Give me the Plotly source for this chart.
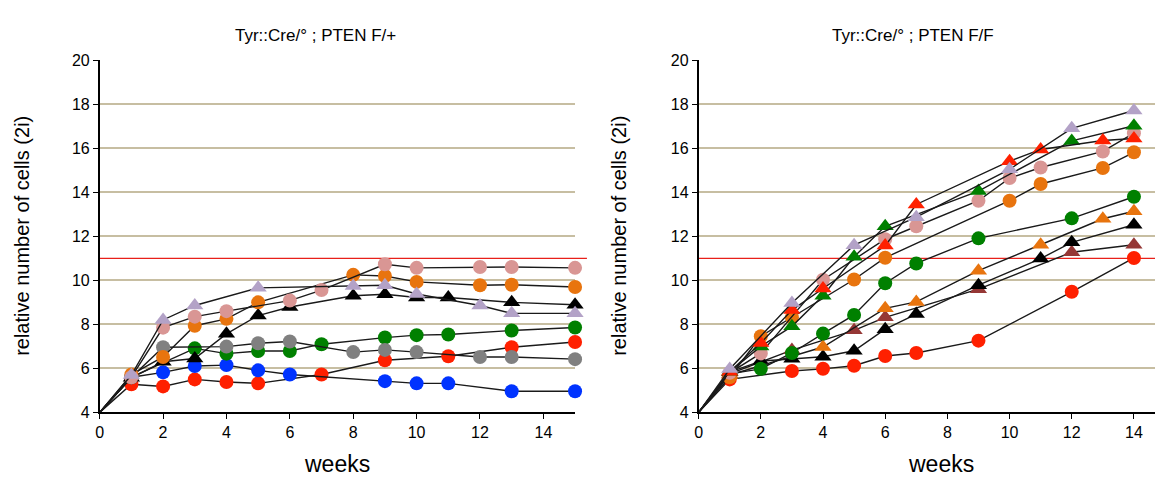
import plotly.graph_objects as go

W, H = 1163, 478

# ---------------- data: left panel (PTEN F/+) ----------------
L_lav_x = [0, 1, 2, 3, 5, 8, 9, 10, 12, 13, 15]
L_lav_y = [4, 5.7, 8.2, 8.86, 9.66, 9.74, 9.78, 9.38, 8.86, 8.5, 8.5]
L_pink_x = [0, 1, 2, 3, 4, 6, 7, 9, 10, 12, 13, 15]
L_pink_y = [4, 5.6, 7.85, 8.35, 8.6, 9.08, 9.56, 10.73, 10.57, 10.61, 10.61, 10.57]
L_orange_x = [0, 1, 2, 3, 4, 5, 8, 9, 10, 12, 13, 15]
L_orange_y = [4, 5.72, 6.52, 7.94, 8.25, 9.0, 10.25, 10.2, 9.93, 9.78, 9.8, 9.7]
L_black_x = [0, 1, 2, 3, 4, 5, 6, 8, 9, 10, 11, 13, 15]
L_black_y = [4, 5.57, 6.3, 6.45, 7.57, 8.4, 8.79, 9.3, 9.37, 9.22, 9.22, 9.0, 8.89]
L_gray_x = [0, 1, 2, 4, 5, 6, 8, 9, 10, 12, 13, 15]
L_gray_y = [4, 5.6, 6.96, 6.99, 7.14, 7.22, 6.74, 6.84, 6.74, 6.52, 6.52, 6.42]
L_green_x = [0, 1, 3, 4, 5, 6, 7, 9, 10, 11, 13, 15]
L_green_y = [4, 5.6, 6.91, 6.67, 6.79, 6.79, 7.1, 7.4, 7.51, 7.54, 7.72, 7.86]
L_blue_x = [0, 1, 2, 3, 4, 5, 6, 9, 10, 11, 13, 15]
L_blue_y = [4, 5.6, 5.82, 6.11, 6.15, 5.91, 5.72, 5.42, 5.32, 5.32, 4.96, 4.96]
L_red_x = [0, 1, 2, 3, 4, 5, 7, 9, 11, 13, 15]
L_red_y = [4, 5.28, 5.18, 5.5, 5.38, 5.32, 5.72, 6.37, 6.55, 6.96, 7.2]

# ---------------- data: right panel (PTEN F/F) ----------------
R_lav_x = [0, 1, 3, 5, 7, 10, 12, 14]
R_lav_y = [4, 5.97, 8.97, 11.6, 12.87, 15.05, 16.91, 17.72]
R_redtri_x = [0, 1, 2, 3, 4, 6, 7, 10, 11, 13, 14]
R_redtri_y = [4, 5.85, 7.15, 8.65, 9.63, 11.58, 13.45, 15.42, 15.95, 16.36, 16.45]
R_greentri_x = [0, 1, 2, 3, 4, 5, 6, 9, 12, 14]
R_greentri_y = [4, 5.85, 7.0, 7.91, 9.3, 11.07, 12.46, 14.06, 16.34, 17.03]
R_pink_x = [0, 1, 2, 4, 6, 7, 9, 10, 11, 13, 14]
R_pink_y = [4, 5.8, 6.68, 10.03, 11.87, 12.46, 13.62, 14.65, 15.13, 15.86, 16.69]
R_orange_x = [0, 1, 2, 3, 5, 6, 10, 11, 13, 14]
R_orange_y = [4, 5.6, 7.46, 8.32, 10.04, 11.03, 13.62, 14.38, 15.11, 15.82]
R_green_x = [0, 1, 2, 3, 4, 5, 6, 7, 9, 12, 14]
R_green_y = [4, 5.75, 5.98, 6.7, 7.58, 8.43, 9.87, 10.77, 11.91, 12.82, 13.8]
R_orangetri_x = [0, 1, 4, 6, 7, 9, 11, 13, 14]
R_orangetri_y = [4, 5.7, 6.97, 8.73, 9.02, 10.44, 11.62, 12.8, 13.14]
R_black_x = [0, 1, 2, 3, 4, 5, 6, 7, 9, 11, 12, 14]
R_black_y = [4, 5.83, 6.33, 6.44, 6.53, 6.8, 7.78, 8.47, 9.78, 10.99, 11.73, 12.53]
R_brown_x = [0, 1, 3, 5, 6, 9, 12, 14]
R_brown_y = [4, 5.75, 6.83, 7.73, 8.32, 9.6, 11.28, 11.62]
R_red_x = [0, 1, 3, 4, 5, 6, 7, 9, 12, 14]
R_red_y = [4, 5.5, 5.88, 5.98, 6.12, 6.56, 6.7, 7.26, 9.48, 11.02]

threshold = 11
y_ticks = [4, 6, 8, 10, 12, 14, 16, 18, 20]
x_ticks = [0, 2, 4, 6, 8, 10, 12, 14]
title_left = "Tyr::Cre/° ; PTEN F/+"
title_right = "Tyr::Cre/° ; PTEN F/F"
y_title = "relative number of cells (2i)"
x_title = "weeks"

LAV = "#B3A2C7"; PINK = "#D99694"; ORANGE = "#E8740E"; BLACK = "#000000"
GRAY = "#808080"; GREEN = "#008000"; BLUE = "#0033FF"; RED = "#FF2000"; BROWN = "#953735"

left_series = [
    (L_red_x, L_red_y, RED, "circle"),
    (L_blue_x, L_blue_y, BLUE, "circle"),
    (L_green_x, L_green_y, GREEN, "circle"),
    (L_gray_x, L_gray_y, GRAY, "circle"),
    (L_black_x, L_black_y, BLACK, "triangle-up"),
    (L_orange_x, L_orange_y, ORANGE, "circle"),
    (L_pink_x, L_pink_y, PINK, "circle"),
    (L_lav_x, L_lav_y, LAV, "triangle-up"),
]
right_series = [
    (R_red_x, R_red_y, RED, "circle"),
    (R_brown_x, R_brown_y, BROWN, "triangle-up"),
    (R_black_x, R_black_y, BLACK, "triangle-up"),
    (R_orangetri_x, R_orangetri_y, ORANGE, "triangle-up"),
    (R_green_x, R_green_y, GREEN, "circle"),
    (R_orange_x, R_orange_y, ORANGE, "circle"),
    (R_pink_x, R_pink_y, PINK, "circle"),
    (R_greentri_x, R_greentri_y, GREEN, "triangle-up"),
    (R_redtri_x, R_redtri_y, RED, "triangle-up"),
    (R_lav_x, R_lav_y, LAV, "triangle-up"),
]

fig = go.Figure()

def add(series, xa, ya):
    for xs, ys, col, sym in series:
        sizes = [0 if x == 0 else (14 if sym == "circle" else 15) for x in xs]
        fig.add_trace(go.Scatter(
            x=xs, y=ys, xaxis=xa, yaxis=ya, mode="lines+markers",
            line=dict(color="#1a1a1a", width=1.4),
            marker=dict(color=col, symbol=sym, size=sizes, opacity=1, line=dict(width=0)),
            opacity=1,
            showlegend=False, cliponaxis=False, hoverinfo="x+y"))

add(left_series, "x", "y")
add(right_series, "x2", "y2")

def px(xp):
    return xp / W

def py(yp):
    return (H - yp) / H

FONT = "Arial, 'Liberation Sans', sans-serif"
yd = [py(411), py(46)]

axis_common = dict(showline=True, linecolor="black", linewidth=1.6, ticks="outside",
                   ticklen=5, tickwidth=1.3, tickcolor="black", zeroline=False,
                   tickfont=dict(family=FONT, size=16, color="black"))

fig.update_layout(
    width=W, height=H, margin=dict(l=0, r=0, t=0, b=0),
    paper_bgcolor="white", plot_bgcolor="white",
    xaxis=dict(domain=[px(88), px(565)], range=[0, 15], tickvals=x_ticks, showgrid=False,
               anchor="y", **axis_common),
    yaxis=dict(domain=yd, range=[4, 20], tickvals=y_ticks, showgrid=True,
               gridcolor="#C7BEA2", gridwidth=2, anchor="x", **axis_common),
    xaxis2=dict(domain=[px(689), px(1157)], range=[0, 15], tickvals=x_ticks, showgrid=False,
                anchor="y2", **axis_common),
    yaxis2=dict(domain=yd, range=[4, 20], tickvals=y_ticks, showgrid=True,
                gridcolor="#C7BEA2", gridwidth=2, anchor="x2", **axis_common),
    shapes=[
        dict(type="line", xref="x domain", yref="y", x0=0, x1=1.025, y0=threshold, y1=threshold,
             line=dict(color="#E8201A", width=1.3), layer="below"),
        dict(type="line", xref="x2 domain", yref="y2", x0=0, x1=1.012, y0=threshold, y1=threshold,
             line=dict(color="#E8201A", width=1.3), layer="below"),
    ],
    annotations=[
        dict(text=title_left, x=px(305), y=py(20), xref="paper", yref="paper", showarrow=False,
             font=dict(family=FONT, size=17, color="black"), xanchor="center", yanchor="middle"),
        dict(text=title_right, x=px(904), y=py(20), xref="paper", yref="paper", showarrow=False,
             font=dict(family=FONT, size=17, color="black"), xanchor="center", yanchor="middle"),
        dict(text=y_title, x=px(10), y=py(228), xref="paper", yref="paper", showarrow=False,
             textangle=-90, font=dict(family=FONT, size=20, color="black"),
             xanchor="center", yanchor="middle"),
        dict(text=y_title, x=px(609), y=py(228), xref="paper", yref="paper", showarrow=False,
             textangle=-90, font=dict(family=FONT, size=20, color="black"),
             xanchor="center", yanchor="middle"),
        dict(text=x_title, x=px(326), y=py(465), xref="paper", yref="paper", showarrow=False,
             font=dict(family=FONT, size=23, color="black"), xanchor="center", yanchor="middle"),
        dict(text=x_title, x=px(932), y=py(465), xref="paper", yref="paper", showarrow=False,
             font=dict(family=FONT, size=23, color="black"), xanchor="center", yanchor="middle"),
    ],
)

fig.write_html("out.html")
